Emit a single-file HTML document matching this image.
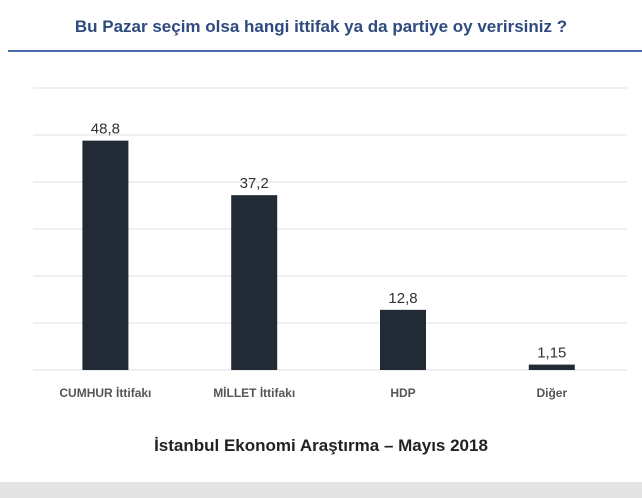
<!DOCTYPE html>
<html><head><meta charset="utf-8"><style>
body{margin:0;width:642px;height:498px;background:#fff;overflow:hidden;font-family:"Liberation Sans",sans-serif;position:relative}
#title{position:absolute;top:17px;left:0;width:642px;text-align:center;color:#2f4a7f;font-weight:bold;font-size:17px}
#rule{position:absolute;top:50px;left:8px;width:634px;height:2px;background:#4a6aa8}
#foot{position:absolute;top:436px;left:0;width:642px;text-align:center;font-weight:bold;font-size:17px;color:#222}
#strip{position:absolute;top:482px;left:0;width:642px;height:16px;background:#e4e4e4}
</style></head><body>
<div id="title">Bu Pazar seçim olsa hangi ittifak ya da partiye oy verirsiniz ?</div>
<div id="rule"></div>
<svg id="chart" width="642" height="420" style="position:absolute;top:0;left:0"></svg>
<div id="foot">İstanbul Ekonomi Araştırma – Mayıs 2018</div>
<div id="strip"></div>
<script>
const categories=["CUMHUR İttifakı","MİLLET İttifakı","HDP","Diğer"];
const values=[48.8,37.2,12.8,1.15];
const valueLabels=["48,8","37,2","12,8","1,15"];
const gridTicks=[0,10,20,30,40,50,60];
const svg=document.getElementById('chart');
const NS='http://www.w3.org/2000/svg';
const x0=33,x1=627,yBase=370,pxPerUnit=4.7,step=148.8,bw=46;
const y=v=>yBase-v*pxPerUnit;
const xc=i=>x0+step*(i+0.5)-2;
function mk(t,a){const e=document.createElementNS(NS,t);for(const k in a)e.setAttribute(k,a[k]);svg.appendChild(e);return e;}
gridTicks.forEach(t=>{
const l=mk('line',{x1:x0,x2:x1,y1:y(t),y2:y(t),stroke:'#e2e2e2','stroke-width':1});


});
values.forEach((v,i)=>{
const r=mk('rect',{x:xc(i)-bw/2,y:y(v),width:bw,height:yBase-y(v),fill:'#222a35'});


const t=mk('text',{x:xc(i),y:y(v)-7,'text-anchor':'middle','font-size':15,fill:'#333','font-family':'Liberation Sans, sans-serif'});
t.textContent=valueLabels[i];


const c=mk('text',{x:xc(i),y:397,'text-anchor':'middle','font-size':12,'font-weight':'bold',fill:'#555','font-family':'Liberation Sans, sans-serif'});
c.textContent=categories[i];


});
</script>
</body></html>
